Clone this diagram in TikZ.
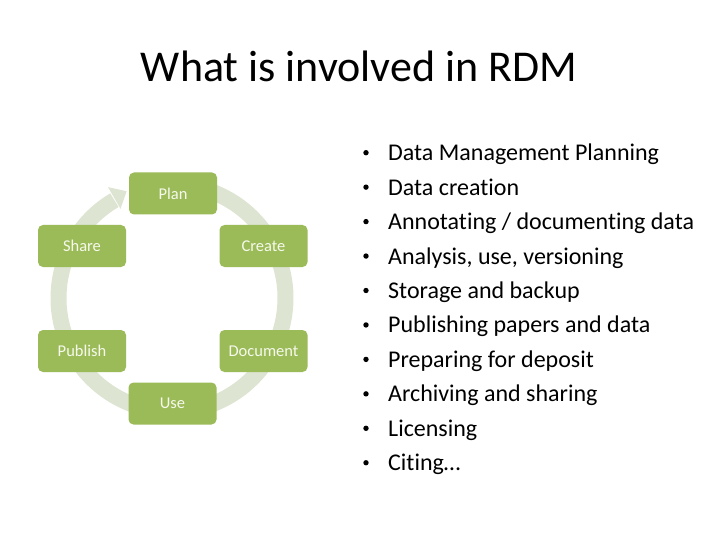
\documentclass[tikz,border=0pt]{standalone}
\usepackage{fontspec}
\setmainfont{Carlito}[Ligatures=NoCommon]
\definecolor{boxgreen}{RGB}{155,187,89}
\definecolor{ringgrey}{RGB}{221,228,210}
\definecolor{boxtext}{RGB}{246,249,236}
\begin{document}
\begin{tikzpicture}[x=1pt,y=1pt,
  stagebox/.style={draw=none,fill=boxgreen,rounded corners=5pt,minimum width=88pt,minimum height=42pt,inner sep=0pt,text=boxtext,font=\fontsize{16.5}{19}\selectfont},
  ringband/.style={draw=ringgrey,line width=16pt},
  bulletline/.style={anchor=base west,inner sep=0pt,font=\fontsize{24}{28}\selectfont},
  bulletdot/.style={circle,fill=black,inner sep=0pt,minimum size=5.4pt}]
\useasboundingbox (0,0) rectangle (720,-540);
% title
\node[anchor=base,inner sep=0pt,font=\fontsize{44}{52}\selectfont] (title) at (359,-81.7) {What is involved in RDM};
% cycle ring
\coordinate (c) at (172,-298);
\draw[ringband] ([shift={(85:113.5)}]c) arc[start angle=85,end angle=-239.5,radius=113.5];
\fill[ringgrey] ([shift={(120:103)}]c) -- ([shift={(120:128)}]c) -- ([shift={(113:116)}]c) -- cycle;
% stages
\node[stagebox] (plan) at (173,-193.5) {Plan};
\node[stagebox] (create) at (263.5,-246) {Create};
\node[stagebox] (document) at (263.5,-351) {Document};
\node[stagebox] (use) at (172.5,-403.5) {Use};
\node[stagebox] (publish) at (82,-351) {Publish};
\node[stagebox] (share) at (82,-246) {Share};
% bullets
\foreach \t [count=\i from 0] in {Data Management Planning,Data creation,Annotating / documenting data,{Analysis, use, versioning},Storage and backup,Publishing papers and data,Preparing for deposit,Archiving and sharing,Licensing,Citing…}{
  \node[bulletdot] (b\i) at (366,{-152.7-34.45*\i}) {};
  \node[bulletline] (t\i) at (388,{-160.7-34.45*\i}) {\t};
}
\end{tikzpicture}
\end{document}
